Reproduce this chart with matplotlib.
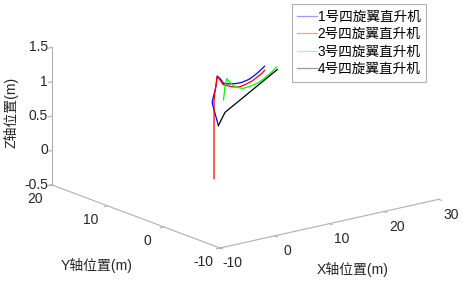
import matplotlib
matplotlib.use('Agg')
import matplotlib.pyplot as plt
from matplotlib.lines import Line2D
from mpl_toolkits.mplot3d import proj3d

plt.rcParams['font.family'] = ['Liberation Sans', 'Noto Sans CJK SC']
plt.rcParams['font.size'] = 10
plt.rcParams['axes.unicode_minus'] = False

# ---------------- data ----------------
labels = ['1号四旋翼直升机', '2号四旋翼直升机', '3号四旋翼直升机', '4号四旋翼直升机']
colors = ['#0000ff', '#ff0000', '#00ff00', '#000000']
legend_colors = ['#9a9aff', '#ff9a9a', '#9aff9a', '#9a9a9a']

x1 = [1.0, 1.4, 1.4, 1.0, 1.3, 2.7, 4.0, 6.6, 9.0, 10.9, 12.9, 14.7, 16.4, 19.2]
y1 = [1.0, 2.4, 2.5, 1.45, 1.5, 2.3, 3.0, 4.5, 5.6, 6.4, 7.2, 8.2, 9.0, 10.5]
z1 = [0.75, 1.0, 1.04, 1.3, 1.45, 1.36, 1.25, 1.15, 1.08, 1.04, 1.02, 1.0, 1.0, 1.0]

x2 = [0.0, 0.0, 0.0, 0.0, 0.3, 0.6, 1.3, 2.6, 4.2, 6.5, 8.0, 9.7, 11.3, 13.2, 14.7, 16.6, 18.0]
y2 = [0.8, 0.8, 0.8, 0.8, 0.9, 1.0, 1.5, 2.3, 3.3, 4.6, 5.2, 5.6, 6.3, 6.9, 7.6, 8.5, 9.3]
z2 = [0.0, 0.41, 0.84, 1.13, 1.28, 1.36, 1.45, 1.35, 1.22, 1.12, 1.06, 1.02, 1.0, 1.0, 1.0, 1.0, 1.0]

x3 = [4.2, 4.7, 4.8, 5.8, 7.2, 8.6, 9.5, 11.4, 13.4, 15.0, 16.9, 18.6, 20.4]
y3 = [3.2, 3.4, 3.2, 3.7, 4.4, 4.9, 4.9, 5.5, 6.0, 6.7, 7.6, 8.5, 9.5]
z3 = [1.0, 1.2, 1.3, 1.22, 1.12, 1.05, 1.02, 1.0, 1.0, 1.0, 1.0, 1.0, 1.0]

x4 = [1.0, 5.8, 19.7]
y4 = [1.0, 4.5, 8.7]
z4 = [0.75, 0.75, 1.0]

xticks = [-10, 0, 10, 20, 30]
yticks = [-10, 0, 10, 20]
zticks = [-0.5, 0, 0.5, 1, 1.5]
zticklabels = ['-0.5', '0', '0.5', '1', '1.5']

# ---------------- figure ----------------
W, H = 463, 283
fig = plt.figure(figsize=(W / 100, H / 100), dpi=100)
ax = fig.add_axes([0, 0, 1, 1], projection='3d', proj_type='ortho')
ax.view_init(elev=16.8, azim=-127.6)
ax.set_box_aspect((1, 1, 0.52))

series = [(x1, y1, z1), (x2, y2, z2), (x3, y3, z3), (x4, y4, z4)]
for (xs, ys, zs), c in zip(series, colors):
    ax.plot(xs, ys, zs, color=c, lw=0.9)

ax.set_xlim(-10, 30)
ax.set_ylim(-10, 20)
ax.set_zlim(-0.5, 1.5)
ax.set_xticks(xticks)
ax.set_yticks(yticks)
ax.set_zticks(zticks)
ax.set_zticklabels(zticklabels)
ax.grid(False)

for axis in (ax.xaxis, ax.yaxis, ax.zaxis):
    axis.set_pane_color((1, 1, 1, 0))
    axis.line.set_color('#b0b0b0')
    axis.line.set_linewidth(0.8)
    axis._axinfo['tick']['inward_factor'] = 0.2
    axis._axinfo['tick']['outward_factor'] = 0.0
for a, p in (('x', 3.5), ('y', 3.5), ('z', -6.5)):
    ax.tick_params(axis=a, colors='#b0b0b0', labelcolor='#262626', labelsize=10, width=0.8, pad=p)
for lab in ax.get_xticklabels() + ax.get_yticklabels():
    lab.set_verticalalignment('center')
for lab in ax.get_zticklabels():
    lab.set_verticalalignment('center')
    lab.set_horizontalalignment('right')

# calibrate axes position so that the box corners land where the reference has them
fig.canvas.draw()

def disp(x, y, z):
    xs, ys, _ = proj3d.proj_transform(x, y, z, ax.M)
    return ax.transData.transform((xs, ys))

pos = ax.get_position()
side = pos.width * W
cx = (pos.x0 + pos.width / 2) * W
cy = (pos.y0 + pos.height / 2) * H
A = disp(-10, -10, -0.5)
B = disp(30, -10, -0.5)
C = disp(-10, 20, -0.5)
k = (440 - 53) / (B[0] - C[0])
ns = side * k
ncx = 220 - k * (A[0] - cx)
ncy = (H - 248) - k * (A[1] - cy)
ax.set_position([(ncx - ns / 2) / W, (ncy - ns / 2) / H, ns / W, ns / H])

fig.text(11 / W, 1 - 112 / H, 'Z轴位置(m)', rotation=90, ha='center', va='center', color='#262626')
fig.text(97 / W, 1 - 265 / H, 'Y轴位置(m)', ha='center', va='center', color='#262626')
fig.text(353 / W, 1 - 269 / H, 'X轴位置(m)', ha='center', va='center', color='#262626')

proxies = [Line2D([], [], color=c, lw=0.9) for c in legend_colors]
leg = fig.legend(handles=proxies, labels=labels, loc='upper left', bbox_to_anchor=(291.5 / W, 1 - 4 / H),
                 bbox_transform=fig.transFigure, fancybox=False, framealpha=1,
                 edgecolor='#b0b0b0', borderpad=0.4, labelspacing=0.26,
                 handlelength=1.45, handletextpad=0.08, borderaxespad=0, fontsize=9.8)
leg.get_frame().set_linewidth(0.8)

fig.savefig('out.png', dpi=100)
